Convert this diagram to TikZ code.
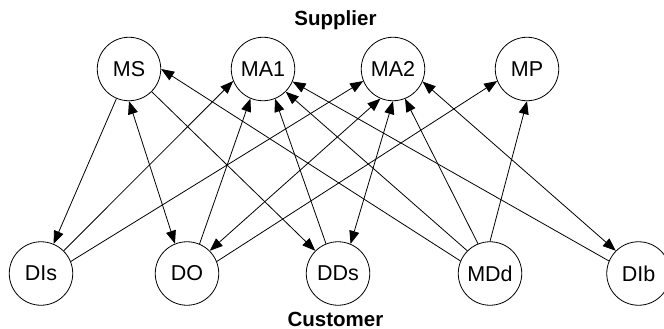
\documentclass[tikz,border=0pt]{standalone}
\usepackage{fontspec}
\setmainfont{Liberation Sans}
\usetikzlibrary{arrows.meta}
\begin{document}
\begin{tikzpicture}[x=1pt,y=-1pt,
  st/.style={circle,draw,line width=0.8pt,minimum size=63.5pt,inner sep=0pt,
     font=\fontsize{21.5}{25}\selectfont},
  lbl/.style={font=\fontsize{20.5}{24}\selectfont\bfseries,inner sep=0pt},
  con/.style={line width=0.8pt},
  tip/.style={-{Triangle[length=13pt,width=10pt]}},
  tips/.style={{Triangle[length=13pt,width=10pt]}-{Triangle[length=13pt,width=10pt]}}]
\useasboundingbox (0,0) rectangle (664,329);
\clip (0,0) rectangle (664,329);
\node[lbl] (sup) at (335.5,20) {Supplier};
\node[lbl] (cus) at (335.5,319) {Customer};
\node[st] (MS)  at (129,69) {MS};
\node[st] (MA1) at (263,69) {MA1};
\node[st] (MA2) at (393,69) {MA2};
\node[st] (MP)  at (527,69) {MP};
\node[st] (DIs) at (41,273.5) {DIs};
\node[st] (DO)  at (187,273.5) {DO};
\node[st] (DDs) at (338,273.5) {DDs};
\node[st] (MDd) at (490,273.5) {MDd};
\node[st] (DIb) at (638.5,273.5) {DIb};
% MS
\draw[con,tip]  (MS.247.5) -- (DIs.67.5);
\draw[con,tips] (MS.270) -- (DO.112.5);
\draw[con,tip]  (MS.315) -- (DDs.135);
\draw[con,tip]  (MDd.157.5) -- (MS.0);
% MA1
\draw[con,tip]  (DIs.45) -- (MA1.202.5);
\draw[con,tip]  (DO.67.5) -- (MA1.247.5);
\draw[con,tip]  (DDs.112.5) -- (MA1.292.5);
\draw[con,tip]  (MDd.135) -- (MA1.315);
\draw[con,tip]  (DIb.157.5) -- (MA1.337.5);
% MA2
\draw[con,tip]  (DIs.22.5) -- (MA2.202.5);
\draw[con,tips] (DO.45) -- (MA2.247.5);
\draw[con,tips] (DDs.67.5) -- (MA2.270);
\draw[con,tip]  (MDd.112.5) -- (MA2.292.5);
\draw[con,tips] (DIb.135) -- (MA2.337.5);
% MP
\draw[con,tip]  (DO.22.5) -- (MP.202.5);
\draw[con,tip]  (MDd.90) -- (MP.270);
\end{tikzpicture}
\end{document}
